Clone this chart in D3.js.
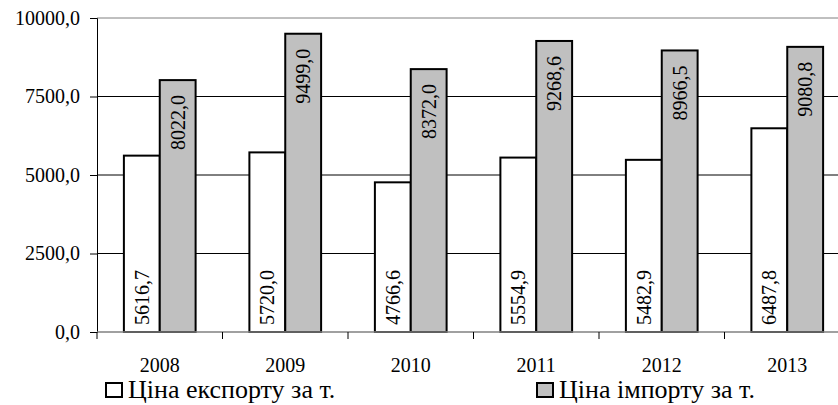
<!DOCTYPE html>
<html>
<head>
<meta charset="utf-8">
<script src="https://cdn.jsdelivr.net/npm/d3@7"></script>
<style>
body { margin: 0; background: #fff; }
svg { display: block; }
</style>
</head>
<body>
<svg id="chart" width="838" height="405" font-family="Liberation Serif"></svg>
<script>
// data
var years = ["2008", "2009", "2010", "2011", "2012", "2013"];
var exportPrice = [5616.7, 5720.0, 4766.6, 5554.9, 5482.9, 6487.8];
var importPrice = [8022.0, 9499.0, 8372.0, 9268.6, 8966.5, 9080.8];
var yTicks = [0, 2500, 5000, 7500, 10000];
var seriesNames = ["Ціна експорту за т.", "Ціна імпорту за т."];

var FONT = "Liberation Serif";
var svg = d3.select("#chart");
var plotLeft = 97, plotRight = 850, plotTop = 18, plotBottom = 332;

var fmt = function(v) { return d3.format(".1f")(v).replace(".", ","); };

var x = d3.scaleBand().domain(years).range([plotLeft, plotRight]).paddingInner(0).paddingOuter(0);
var inner = d3.scaleBand().domain([0, 1]).range([0, x.bandwidth()]).paddingOuter(0.75).paddingInner(0);
var y = d3.scaleLinear().domain([0, 10000]).range([plotBottom, plotTop]);

// gridlines
svg.append("g").selectAll("line")
	.data(yTicks.filter(function(d) { return d > 0; }))
	.join("line")
	.attr("x1", plotLeft).attr("x2", plotRight)
	.attr("y1", function(d) { return y(d); })
	.attr("y2", function(d) { return y(d); })
	.attr("stroke", function(d) { return d == 10000 ? "#808080" : "#000"; })
	.attr("stroke-width", 1);

// y axis
var yAxis = svg.append("g")
	.attr("transform", "translate(" + plotLeft + ",0)")
	.call(d3.axisLeft(y).tickValues(yTicks).tickSize(7).tickPadding(10).tickFormat(fmt));
yAxis.attr("font-family", FONT).attr("font-size", 20);
yAxis.select(".domain").attr("stroke", "#000");
yAxis.selectAll("text").attr("fill", "#000").attr("font-family", FONT);

// bars
var groups = svg.append("g").selectAll("g")
	.data(years)
	.join("g")
	.attr("transform", function(d) { return "translate(" + x(d) + ",0)"; });

groups.each(function(yr, i) {
	var g = d3.select(this);
	var vals = [exportPrice[i], importPrice[i]];
	vals.forEach(function(v, j) {
		g.append("rect")
			.attr("x", inner(j))
			.attr("y", y(v))
			.attr("width", inner.bandwidth())
			.attr("height", y(0) - y(v))
			.attr("fill", j == 0 ? "#fff" : "#c0c0c0")
			.attr("stroke", "#000")
			.attr("stroke-width", 2);
		var cx = inner(j) + inner.bandwidth() / 2;
		var ty = j == 0 ? y(0) - 7 : y(v) + 15;
		g.append("text")
			.attr("transform", "translate(" + (cx + 7) + "," + ty + ") rotate(-90)")
			.attr("text-anchor", j == 0 ? "start" : "end")
			.attr("font-size", 20)
			.attr("font-family", FONT)
			.text(fmt(v));
	});
});

// x axis
var xAxis = svg.append("g")
	.attr("transform", "translate(0," + plotBottom + ")");
xAxis.append("line")
	.attr("x1", plotLeft).attr("x2", plotRight)
	.attr("stroke", "#808080").attr("stroke-width", 1.5);
xAxis.selectAll(".tk")
	.data(years)
	.join("line")
	.attr("class", "tk")
	.attr("x1", function(d) { return x(d); })
	.attr("x2", function(d) { return x(d); })
	.attr("y1", 0).attr("y2", 7)
	.attr("stroke", "#000");
xAxis.selectAll("text")
	.data(years)
	.join("text")
	.attr("x", function(d) { return x(d) + x.bandwidth() / 2; })
	.attr("y", 40)
	.attr("text-anchor", "middle")
	.attr("font-size", 20)
	.attr("font-family", FONT)
	.text(function(d) { return d; });

// legend
var legendX = [106, 537];
var legend = svg.append("g").selectAll("g")
	.data(seriesNames)
	.join("g")
	.attr("transform", function(d, i) { return "translate(" + legendX[i] + ",383)"; });
legend.append("rect")
	.attr("width", 16).attr("height", 14)
	.attr("fill", function(d, i) { return i == 0 ? "#fff" : "#c0c0c0"; })
	.attr("stroke", "#000")
	.attr("stroke-width", 2);
legend.append("text")
	.attr("x", 22)
	.attr("y", 15)
	.attr("font-size", 26)
	.attr("font-family", FONT)
	.text(function(d) { return d; });
</script>
</body>
</html>
